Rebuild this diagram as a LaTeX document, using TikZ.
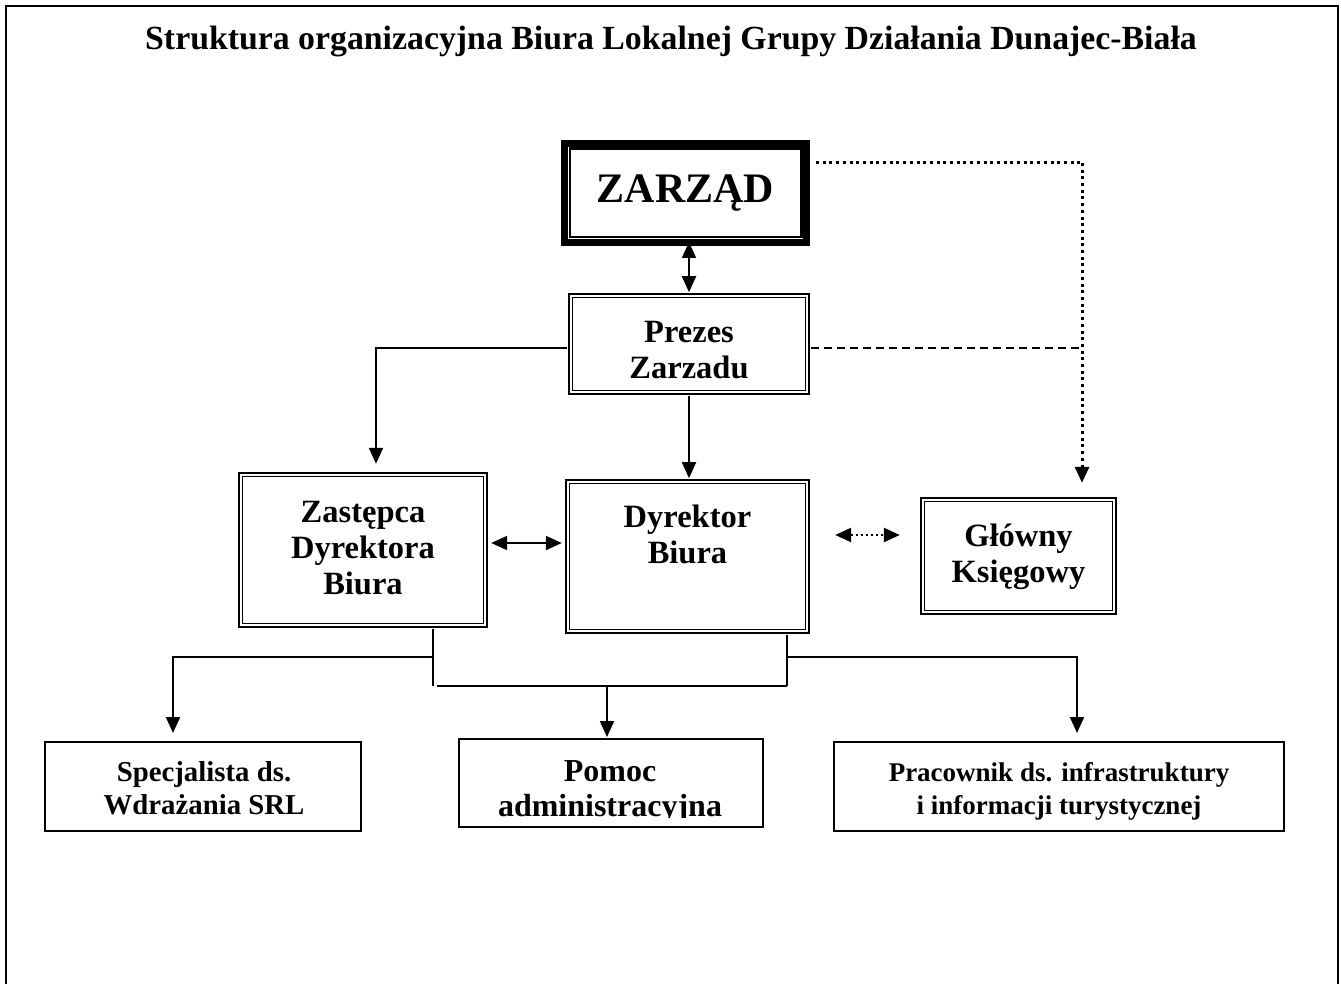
\documentclass[tikz,border=0pt]{standalone}
\usepackage{fontspec}
\setmainfont{Liberation Serif}
\usetikzlibrary{arrows.meta,calc}
\begin{document}
\begin{tikzpicture}[x=1pt,y=-1pt,
  dbox/.style={draw, double, double distance=2pt, line width=1.6pt, inner sep=0pt},
  sbox/.style={draw, line width=2pt, inner sep=0pt},
  conn/.style={line width=2pt},
  arr/.style={conn,-{Triangle[width=14pt,length=16pt]}},
  darr/.style={conn,{Triangle[width=14pt,length=16pt]}-{Triangle[width=14pt,length=16pt]}},
  dotln/.style={line width=3pt, dash pattern=on 3pt off 3.7pt},
  dotarr/.style={line width=2.5pt, dash pattern=on 2.5pt off 2.5pt,{Triangle[width=14pt,length=16pt]}-{Triangle[width=14pt,length=16pt]}},
  dashln/.style={line width=1.5pt, dash pattern=on 8pt off 5pt},
  txt/.style={align=center, inner sep=0pt, font=\bfseries\fontsize{32.5}{36}\selectfont},
  btxt/.style={align=center, inner sep=0pt, font=\bfseries\fontsize{27}{33}\selectfont},
]
\useasboundingbox (0,0) rectangle (1341,984);
% outer frame (open at the bottom)
\draw[line width=2pt] (6,984) -- (6,6) -- (1338,6) -- (1338,984);

% title
\node[anchor=base, inner sep=0pt, font=\bfseries\fontsize{33.8}{40}\selectfont] (title) at (671,50)
  {Struktura organizacyjna Biura Lokalnej Grupy Działania Dunajec-Biała};

% ZARZAD
\node[draw, line width=7pt, minimum width=242pt, minimum height=99pt, inner sep=0pt,
      font=\bfseries\fontsize{42}{48}\selectfont] (zout) at (685.5,193) {ZARZĄD};
\draw[line width=2.2pt] ([shift={(8.6,8.6)}]zout.north west) rectangle ([shift={(-8.6,-8.6)}]zout.south east);

% boxes
\node[dbox, minimum width=236.8pt, minimum height=96.8pt] (prez) at (689,344) {};
\node[txt] (prezT) at (689,350) {Prezes\\Zarzadu};

\node[dbox, minimum width=244.8pt, minimum height=150.8pt] (zast) at (363,550) {};
\node[txt] (zastT) at (363,548) {Zastępca\\Dyrektora\\Biura};

\node[dbox, minimum width=239.8pt, minimum height=149.8pt] (dyr) at (687.5,556.5) {};
\node[txt] (dyrT) at (687.5,534) {Dyrektor\\Biura};

\node[dbox, minimum width=191.8pt, minimum height=112.8pt] (glo) at (1018.5,556) {};
\node[txt] (gloT) at (1018.5,557) {Główny\\Księgowy};

\node[sbox, minimum width=316pt, minimum height=89pt] (spec) at (203,786.5) {};
\node[btxt, font=\bfseries\fontsize{28.8}{33}\selectfont] (specT) at (204,788) {Specjalista ds.\\Wdrażania SRL};

\node[sbox, minimum width=304pt, minimum height=88pt] (pomoc) at (611,783) {};
\begin{scope}
  \clip (450,745) rectangle (775,817.5);
  \node[txt, font=\bfseries\fontsize{32}{35}\selectfont] (pomocT) at (610,792) {Pomoc\\administracyjna};
\end{scope}

\node[sbox, minimum width=450pt, minimum height=89pt] (prac) at (1059,786.5) {};
\node[btxt] (pracT) at (1059,791) {Pracownik ds. infrastruktury\\i informacji turystycznej};

% connectors
\coordinate (dtop) at (1082,163);
\draw[darr, shorten >=2.6pt] (prez.north |- zout.south) ++(0,-4) -- (prez.north);
\draw[arr, shorten <=2.6pt] ([yshift=-4pt]prez.west) -| ([xshift=13pt,yshift=10pt]zast.north);
\draw[arr, shorten <=2.6pt, shorten >=2.6pt] (prez.south) -- (prez.south |- dyr.north);
\draw[dashln, shorten <=2.6pt] ([yshift=-4pt]prez.east) -- ([yshift=-4pt]prez.east -| dtop);
\draw[dotln] ([xshift=6pt]zout.east |- dtop) -- (dtop);
\draw[dotln, -{Triangle[width=14pt,length=16pt]}] (dtop) -- ([xshift=63.5pt,yshift=16pt]glo.north);
\draw[darr, shorten <=5pt, shorten >=5pt] ([yshift=7pt]zast.east) -- ([yshift=7pt]zast.east -| dyr.west);
\draw[dotarr, shorten <=27pt, shorten >=22pt] ([yshift=21.5pt]dyr.east) -- ([yshift=21.5pt]dyr.east -| glo.west);

\coordinate (lj) at (433,657);
\coordinate (rj) at (787,657);
\coordinate (lb) at (437,686);
\coordinate (rb) at (787,686);
\coordinate (mb) at (607,686);
\draw[conn, shorten <=2.6pt] (zast.south -| lj) -- (lj |- lb);
\draw[conn, shorten <=2.6pt] (dyr.south -| rj) -- (rb);
\draw[conn] (lb) -- (rb);
\draw[arr] (lj) -| ([xshift=-30pt,yshift=8pt]spec.north);
\draw[arr] (rj) -| ([xshift=18pt,yshift=8pt]prac.north);
\draw[arr, shorten >=1pt] (mb) -- (mb |- pomoc.north);
\end{tikzpicture}
\end{document}
